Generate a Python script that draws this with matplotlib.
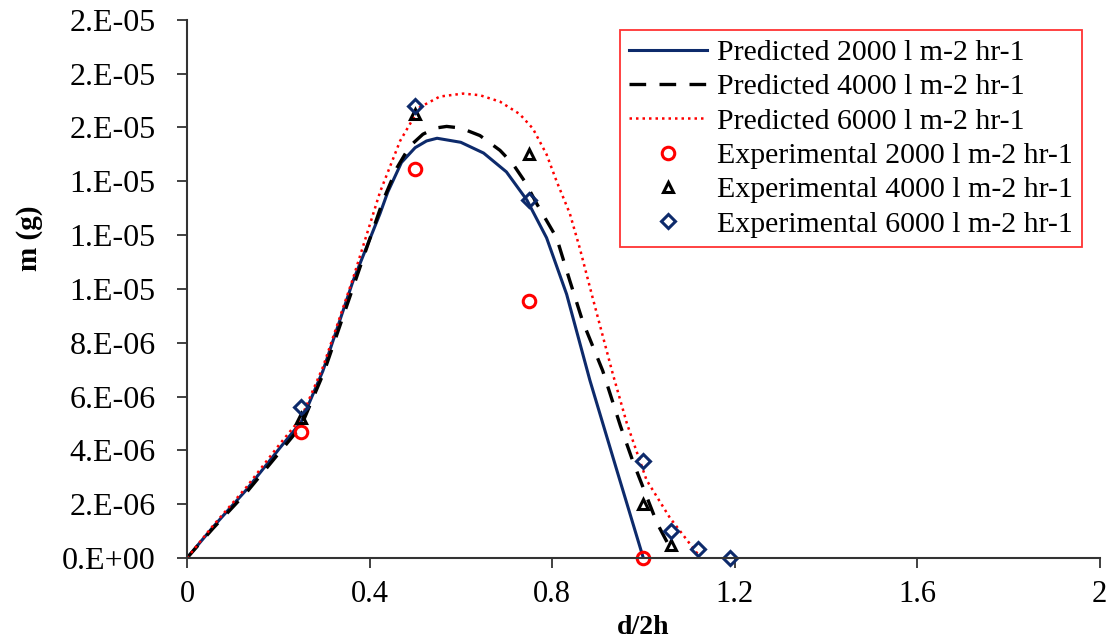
import matplotlib
matplotlib.use("Agg")
import matplotlib.pyplot as plt
from matplotlib.ticker import FixedLocator, FixedFormatter

plt.rcParams['font.family'] = ['Liberation Serif', 'DejaVu Serif']

# predicted curves, y in grams
pred_2000_x = [0, 0.057, 0.131, 0.204, 0.25, 0.298, 0.364, 0.423, 0.44, 0.47, 0.5,
               0.525, 0.548, 0.6, 0.65, 0.7, 0.745, 0.788, 0.832, 0.883, 0.942, 1.0]
pred_2000_y = [0, 1.15e-6, 2.55e-6, 4.1e-6, 5.05e-6, 6.96e-6, 10.3e-6, 12.8e-6, 13.6e-6,
               14.7e-6, 15.25e-6, 15.5e-6, 15.6e-6, 15.45e-6, 15.05e-6, 14.35e-6, 13.3e-6,
               11.9e-6, 9.8e-6, 6.6e-6, 3.26e-6, 0]

pred_4000_x = [0, 0.057, 0.131, 0.204, 0.25, 0.3, 0.379, 0.43, 0.46, 0.488, 0.517,
               0.545, 0.569, 0.6, 0.642, 0.686, 0.714, 0.74, 0.767, 0.81, 0.839, 0.867,
               0.911, 0.95, 0.977, 1.03, 1.058]
pred_4000_y = [0, 1.1e-6, 2.45e-6, 3.95e-6, 4.9e-6, 6.9e-6, 10.8e-6, 13.3e-6, 14.5e-6,
               15.3e-6, 15.75e-6, 15.98e-6, 16.04e-6, 15.98e-6, 15.7e-6, 15.15e-6,
               14.65e-6, 14.0e-6, 13.15e-6, 11.9e-6, 10.3e-6, 8.8e-6, 6.96e-6, 4.9e-6,
               3.6e-6, 1.3e-6, 0.4e-6]

pred_6000_x = [0, 0.057, 0.131, 0.204, 0.25, 0.298, 0.364, 0.423, 0.467, 0.51, 0.554,
               0.605, 0.642, 0.686, 0.729, 0.758, 0.788, 0.81, 0.839, 0.861, 0.889,
               0.933, 0.964, 1.007, 1.058, 1.124]
pred_6000_y = [0, 1.2e-6, 2.65e-6, 4.25e-6, 5.2e-6, 7.1e-6, 10.4e-6, 13.6e-6, 15.5e-6,
               16.75e-6, 17.15e-6, 17.26e-6, 17.2e-6, 16.96e-6, 16.5e-6, 15.96e-6, 15.0e-6,
               14.0e-6, 12.8e-6, 11.5e-6, 9.67e-6, 6.85e-6, 5.0e-6, 2.9e-6, 1.5e-6, 0.04e-6]

# experimental points
exp_2000_x = [0.25, 0.5, 0.75, 1.0]
exp_2000_y = [4.67e-6, 14.44e-6, 9.56e-6, 0]
exp_4000_x = [0.25, 0.5, 0.75, 1.0, 1.06]
exp_4000_y = [5.19e-6, 16.5e-6, 15.0e-6, 2.0e-6, 0.48e-6]
exp_6000_x = [0.25, 0.5, 0.75, 1.0, 1.06, 1.12, 1.19]
exp_6000_y = [5.63e-6, 16.8e-6, 13.3e-6, 3.6e-6, 1.0e-6, 0.33e-6, 0]

y_ticks = [i * 2e-6 for i in range(11)]
y_tick_labels = ['0.E+00', '2.E-06', '4.E-06', '6.E-06', '8.E-06', '1.E-05',
                 '1.E-05', '1.E-05', '2.E-05', '2.E-05', '2.E-05']
x_ticks = [0, 0.4, 0.8, 1.2, 1.6, 2]
x_tick_labels = ['0', '0.4', '0.8', '1.2', '1.6', '2']

navy = '#0d2a6b'

fig = plt.figure(figsize=(11.13, 6.41), dpi=100)
ax = fig.add_axes([0.168, 0.1295, 0.82, 0.8395])

ax.plot(pred_2000_x, pred_2000_y, color=navy, lw=2.2,
        label='Predicted 2000 l m-2 hr-1')
ax.plot(pred_4000_x, pred_4000_y, color='black', lw=2.4, dashes=(5, 4),
        label='Predicted 4000 l m-2 hr-1')
ax.plot(pred_6000_x, pred_6000_y, color='red', lw=1.8, ls=(0, (1, 1.6)),
        label='Predicted 6000 l m-2 hr-1')
ax.plot(exp_2000_x, exp_2000_y, ls='none', marker='o', ms=9, mfc='none',
        mec='red', mew=2.2, label='Experimental 2000 l m-2 hr-1', clip_on=False)
ax.plot(exp_4000_x, exp_4000_y, ls='none', marker='^', ms=7, mfc='none',
        mec='black', mew=2.2, label='Experimental 4000 l m-2 hr-1', clip_on=False)
ax.plot(exp_6000_x, exp_6000_y, ls='none', marker='D', ms=7.5, mfc='none',
        mec=navy, mew=2.2, label='Experimental 6000 l m-2 hr-1', clip_on=False)

ax.set_xlim(0, 2)
ax.set_ylim(0, 2e-5)
ax.xaxis.set_major_locator(FixedLocator(x_ticks))
ax.xaxis.set_major_formatter(FixedFormatter(x_tick_labels))
ax.yaxis.set_major_locator(FixedLocator(y_ticks))
ax.yaxis.set_major_formatter(FixedFormatter(y_tick_labels))

for side in ['top', 'right']:
    ax.spines[side].set_visible(False)
for side in ['left', 'bottom']:
    ax.spines[side].set_linewidth(1.5)
    ax.spines[side].set_color('#333333')

ax.tick_params(axis='both', direction='out', length=7.5, width=1.3, color='#333333')
ax.tick_params(axis='x', labelsize=22, pad=8)
ax.tick_params(axis='y', labelsize=23, pad=15)

ax.set_xlabel('d/2h', fontsize=20, fontweight='bold', va='top')
ax.xaxis.set_label_coords(0.5, -0.106)
ax.set_ylabel('m (g)', fontsize=21, fontweight='bold')
ax.yaxis.set_label_coords(-0.158, 0.595)

leg = ax.legend(loc='upper right', bbox_to_anchor=(0.981, 0.981), borderaxespad=0,
                fontsize=21.5, frameon=True, fancybox=False, handlelength=2.6,
                borderpad=0.3, labelspacing=0.25, handletextpad=0.35)
leg.get_frame().set_edgecolor('red')
leg.get_frame().set_linewidth(1.3)

fig.savefig('out.png', dpi=100)
